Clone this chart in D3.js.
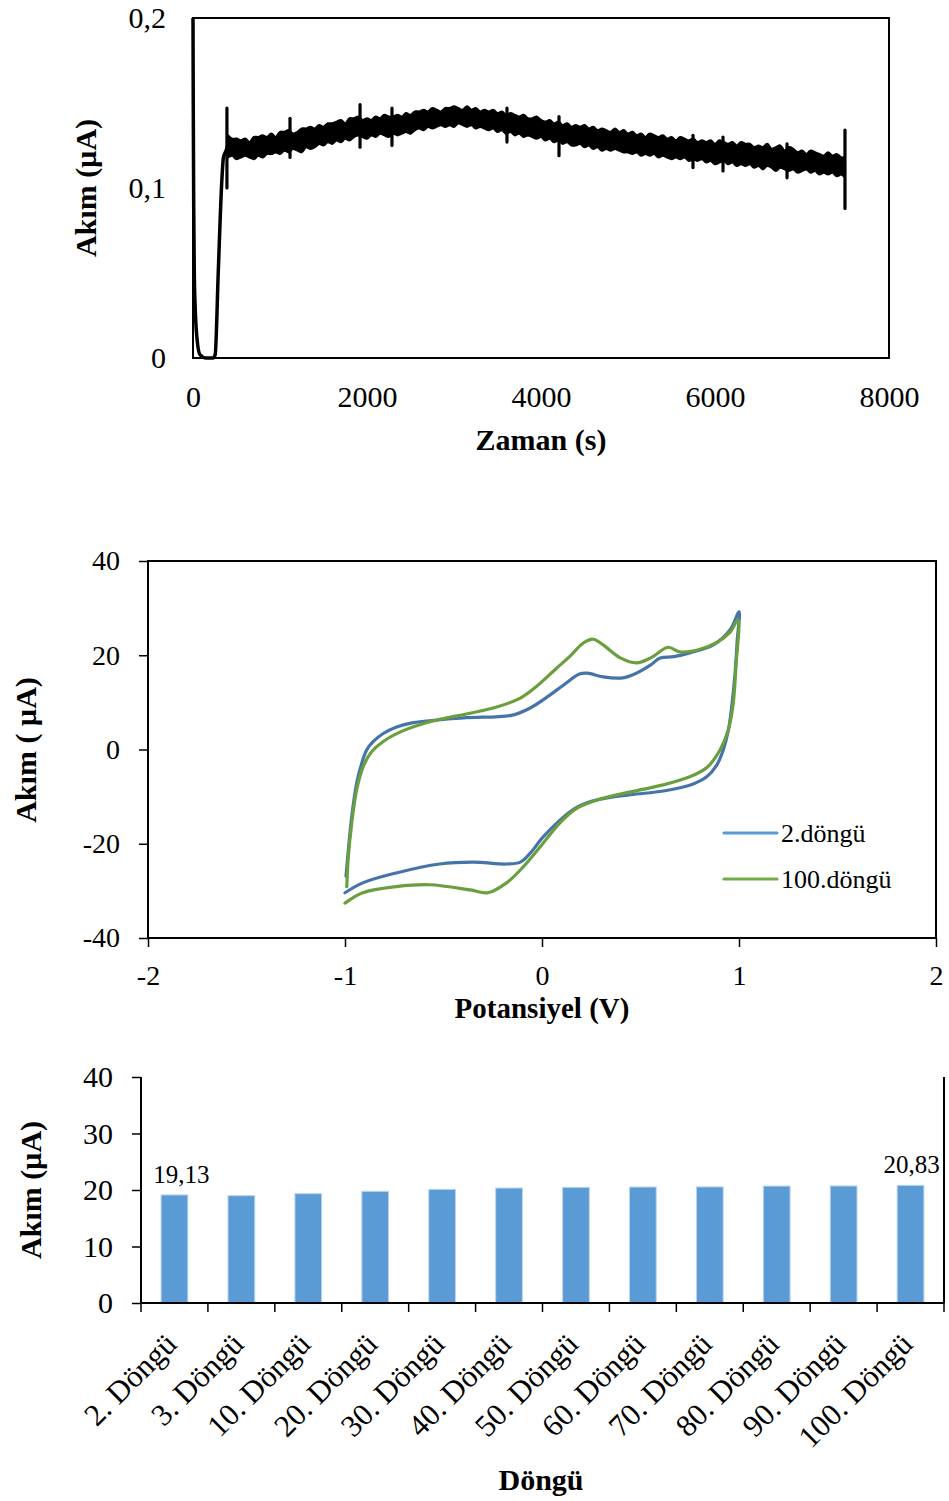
<!DOCTYPE html>
<html>
<head>
<meta charset="utf-8">
<script src="https://cdn.jsdelivr.net/npm/d3@7"></script>
<style>
  html, body { margin: 0; padding: 0; background: #fff; }
  svg text { font-family: "Liberation Serif", "Times New Roman", serif; fill: #000; }
</style>
</head>
<body>
<svg id="fig" width="949" height="1501"></svg>
<script>
// ---------- Panel 1: current vs time ----------
// start-up transient (s, µA)
const timeInitial    = [0, 3, 8, 15, 25, 45, 80, 150, 230, 255, 290, 330, 350, 380, 400];
const currentInitial = [0.2, 0.15, 0.09, 0.05, 0.03, 0.012, 0.002, 0, 0, 0.002, 0.05, 0.103, 0.118, 0.122, 0.125];

// noisy plateau: upper and lower edge of the recorded signal every 50 s
const timeBand = [
  400, 450, 500, 550, 600, 650, 700, 750, 800, 850,
  900, 950, 1000, 1050, 1100, 1150, 1200, 1250, 1300, 1350,
  1400, 1450, 1500, 1550, 1600, 1650, 1700, 1750, 1800, 1850,
  1900, 1950, 2000, 2050, 2100, 2150, 2200, 2250, 2300, 2350,
  2400, 2450, 2500, 2550, 2600, 2650, 2700, 2750, 2800, 2850,
  2900, 2950, 3000, 3050, 3100, 3150, 3200, 3250, 3300, 3350,
  3400, 3450, 3500, 3550, 3600, 3650, 3700, 3750, 3800, 3850,
  3900, 3950, 4000, 4050, 4100, 4150, 4200, 4250, 4300, 4350,
  4400, 4450, 4500, 4550, 4600, 4650, 4700, 4750, 4800, 4850,
  4900, 4950, 5000, 5050, 5100, 5150, 5200, 5250, 5300, 5350,
  5400, 5450, 5500, 5550, 5600, 5650, 5700, 5750, 5800, 5850,
  5900, 5950, 6000, 6050, 6100, 6150, 6200, 6250, 6300, 6350,
  6400, 6450, 6500, 6550, 6600, 6650, 6700, 6750, 6800, 6850,
  6900, 6950, 7000, 7050, 7100, 7150, 7200, 7250, 7300, 7350,
  7400, 7450, 7480];
const currentHigh = [
  0.131, 0.129, 0.129, 0.128, 0.129, 0.127, 0.130, 0.130, 0.131, 0.130,
  0.132, 0.130, 0.133, 0.133, 0.134, 0.132, 0.133, 0.135, 0.135, 0.136,
  0.135, 0.137, 0.136, 0.138, 0.138, 0.139, 0.140, 0.138, 0.141, 0.141,
  0.142, 0.140, 0.141, 0.140, 0.142, 0.141, 0.143, 0.142, 0.142, 0.143,
  0.142, 0.144, 0.143, 0.145, 0.145, 0.146, 0.145, 0.147, 0.146, 0.145,
  0.147, 0.147, 0.148, 0.147, 0.146, 0.148, 0.146, 0.147, 0.145, 0.146,
  0.145, 0.146, 0.144, 0.145, 0.143, 0.144, 0.143, 0.142, 0.143, 0.141,
  0.141, 0.142, 0.140, 0.139, 0.140, 0.138, 0.139, 0.137, 0.138, 0.136,
  0.137, 0.136, 0.137, 0.135, 0.136, 0.134, 0.135, 0.134, 0.133, 0.135,
  0.133, 0.134, 0.132, 0.133, 0.131, 0.132, 0.130, 0.132, 0.131, 0.130,
  0.131, 0.129, 0.130, 0.128, 0.130, 0.129, 0.128, 0.129, 0.127, 0.128,
  0.127, 0.128, 0.126, 0.128, 0.127, 0.126, 0.127, 0.125, 0.127, 0.126,
  0.126, 0.124, 0.125, 0.124, 0.126, 0.123, 0.124, 0.125, 0.122, 0.124,
  0.123, 0.121, 0.122, 0.120, 0.122, 0.121, 0.120, 0.119, 0.121, 0.119,
  0.120, 0.118, 0.118];
const currentLow = [
  0.118, 0.119, 0.117, 0.118, 0.119, 0.118, 0.117, 0.119, 0.118, 0.120,
  0.120, 0.121, 0.120, 0.122, 0.121, 0.123, 0.122, 0.121, 0.124, 0.123,
  0.124, 0.126, 0.125, 0.127, 0.126, 0.128, 0.127, 0.129, 0.128, 0.130,
  0.131, 0.130, 0.129, 0.131, 0.130, 0.132, 0.131, 0.130, 0.132, 0.131,
  0.132, 0.133, 0.132, 0.134, 0.135, 0.134, 0.136, 0.135, 0.136, 0.137,
  0.136, 0.137, 0.136, 0.138, 0.137, 0.136, 0.137, 0.135, 0.136, 0.135,
  0.134, 0.135, 0.133, 0.134, 0.132, 0.133, 0.131, 0.132, 0.130, 0.131,
  0.130, 0.129, 0.130, 0.128, 0.129, 0.127, 0.128, 0.126, 0.127, 0.125,
  0.125, 0.126, 0.124, 0.125, 0.123, 0.124, 0.122, 0.123, 0.122, 0.123,
  0.122, 0.121, 0.121, 0.120, 0.121, 0.119, 0.120, 0.119, 0.120, 0.118,
  0.119, 0.118, 0.117, 0.118, 0.117, 0.118, 0.116, 0.117, 0.116, 0.117,
  0.115, 0.116, 0.114, 0.115, 0.116, 0.114, 0.115, 0.113, 0.114, 0.113,
  0.114, 0.112, 0.113, 0.111, 0.113, 0.112, 0.110, 0.112, 0.111, 0.110,
  0.111, 0.109, 0.110, 0.111, 0.109, 0.110, 0.108, 0.109, 0.108, 0.109,
  0.107, 0.108, 0.107];

// isolated spikes in the signal
const spikeTime = [390, 1115, 1920, 2287, 3609, 4207, 5747, 6092, 6828, 7494];
const spikeLow  = [0.100, 0.118, 0.124, 0.125, 0.127, 0.119, 0.112, 0.110, 0.106, 0.088];
const spikeHigh = [0.147, 0.141, 0.149, 0.147, 0.147, 0.142, 0.131, 0.130, 0.126, 0.134];

const timeTicks = [0, 2000, 4000, 6000, 8000];
const currentTicks1 = [0, 0.1, 0.2];

// ---------- Panel 2: cyclic voltammograms ----------
const cycle2Potential = [-0.995, -0.983, -0.966, -0.941, -0.915, -0.890, -0.856, -0.806, -0.738, -0.653,
  -0.40, -0.15, -0.06, 0.025, 0.11, 0.19, 0.23, 0.31, 0.41, 0.48, 0.55, 0.60, 0.67, 0.75, 0.87, 0.955, 1.0,
  0.991, 0.980, 0.963, 0.946, 0.920, 0.887, 0.836, 0.768, 0.616, 0.45, 0.28, 0.18, 0.11, 0.005, -0.06, -0.11,
  -0.18, -0.35, -0.52, -0.74, -0.91, -1.0];
const cycle2Current = [-26.9, -21.3, -14.3, -7.2, -2.9, -0.1, 1.7, 3.4, 4.8, 5.7,
  6.7, 7.3, 8.8, 11.1, 13.7, 16.0, 16.2, 15.4, 15.2, 16.2, 17.9, 19.4, 19.7, 20.5, 22.2, 25.4, 29.2,
  23.2, 16.2, 9.1, 4.1, -0.1, -3.3, -5.8, -7.3, -8.8, -9.6, -10.7, -12.2, -14.3, -18.6, -22, -23.9,
  -24.3, -23.9, -24.3, -26.2, -28.3, -30.4];

const cycle100Potential = [-0.991, -0.983, -0.966, -0.941, -0.907, -0.865, -0.806, -0.704, -0.569,
  -0.365, -0.23, -0.11, -0.03, 0.075, 0.14, 0.21, 0.26, 0.31, 0.40, 0.48, 0.55, 0.64, 0.70, 0.79, 0.89,
  0.955, 0.995, 0.985, 0.97, 0.945, 0.905, 0.84, 0.75, 0.615, 0.45, 0.28, 0.18, 0.09, -0.01, -0.095, -0.18,
  -0.275, -0.365, -0.57, -0.74, -0.91, -1.0];
const cycle100Current = [-29.1, -22.7, -15.7, -8.6, -3.6, -0.5, 1.7, 4.0, 5.9,
  7.7, 9.0, 10.9, 13.3, 17.3, 19.7, 22.6, 23.4, 22.2, 19.4, 18.4, 19.4, 21.7, 20.7, 21.1, 22.8,
  24.9, 27.5, 18.0, 9.5, 4.1, 0, -3.7, -5.8, -7.5, -9.0, -10.7, -12.4, -15.6, -20.7, -24.9, -28.3,
  -30.4, -29.8, -28.7, -29.1, -30.4, -32.6];

const cvNames = ["2.döngü", "100.döngü"];
const potentialTicks = [-2, -1, 0, 1, 2];
const currentTicks2 = [-40, -20, 0, 20, 40];

// ---------- Panel 3: peak current per cycle ----------
const cycleLabels = ["2. Döngü", "3. Döngü", "10. Döngü", "20. Döngü", "30. Döngü", "40. Döngü",
  "50. Döngü", "60. Döngü", "70. Döngü", "80. Döngü", "90. Döngü", "100. Döngü"];
const peakCurrent = [19.13, 19.0, 19.35, 19.77, 20.12, 20.35, 20.47, 20.53, 20.55, 20.70, 20.72, 20.83];
const currentTicks3 = [0, 10, 20, 30, 40];

const SERIF = '"Liberation Serif","Times New Roman",serif';
const svg = d3.select("#fig");
const comma = v => String(v).replace(".", ",");

function styleAxis(g, size) {
  g.attr("font-family", SERIF).attr("font-size", size);
  g.select(".domain").remove();
  g.selectAll("text").attr("font-size", size).attr("fill", "#000").style("font-family", SERIF);
  g.selectAll("line").attr("stroke", "#000").attr("stroke-width", 1.5);
}

function yTitle(x, y, label, size) {
  svg.append("text")
    .attr("transform", `translate(${x},${y}) rotate(-90)`)
    .attr("text-anchor", "middle").attr("dominant-baseline", "central")
    .attr("font-size", size).attr("font-weight", "bold").text(label);
}
function xTitle(x, y, label, size) {
  svg.append("text").attr("x", x).attr("y", y).attr("text-anchor", "middle")
    .attr("font-size", size).attr("font-weight", "bold").text(label);
}

// ===== Panel 1 =====
{
  const x = d3.scaleLinear().domain([0, 8000]).range([193, 889]);
  const y = d3.scaleLinear().domain([0, 0.2]).range([358, 18]);

  const g = svg.append("g");
  g.append("rect").attr("x", x(0)).attr("y", y(0.2))
    .attr("width", x(8000) - x(0)).attr("height", y(0) - y(0.2))
    .attr("fill", "none").attr("stroke", "#000").attr("stroke-width", 2);

  const band = timeBand.map((t, i) => ({ t, hi: currentHigh[i], lo: currentLow[i] }));
  g.append("path").datum(band)
    .attr("d", d3.area().x(d => x(d.t)).y0(d => y(d.lo)).y1(d => y(d.hi)).curve(d3.curveCatmullRom))
    .attr("fill", "#000").attr("stroke", "#000").attr("stroke-width", 2.2)
    .attr("stroke-linejoin", "round");

  const initial = timeInitial.map((t, i) => ({ t, v: currentInitial[i] }));
  g.append("path").datum(initial)
    .attr("d", d3.line().x(d => x(d.t)).y(d => y(d.v)).curve(d3.curveMonotoneX))
    .attr("fill", "none").attr("stroke", "#000").attr("stroke-width", 3.5)
    .attr("stroke-linejoin", "round");

  g.selectAll("line.spike").data(spikeTime.map((t, i) => ({ t, lo: spikeLow[i], hi: spikeHigh[i] })))
    .join("line").attr("class", "spike")
    .attr("x1", d => x(d.t)).attr("x2", d => x(d.t))
    .attr("y1", d => y(d.lo)).attr("y2", d => y(d.hi))
    .attr("stroke", "#000").attr("stroke-width", 3.2).attr("stroke-linecap", "round");

  const ax = svg.append("g").attr("transform", `translate(0,${y(0)})`)
    .call(d3.axisBottom(x).tickValues(timeTicks).tickFormat(d => String(d)).tickSize(0).tickPadding(28));
  styleAxis(ax, 30);
  const ay = svg.append("g").attr("transform", `translate(${x(0)},0)`)
    .call(d3.axisLeft(y).tickValues(currentTicks1).tickFormat(comma).tickSize(0).tickPadding(27));
  styleAxis(ay, 30);

  xTitle(541, 450, "Zaman (s)", 30);
  yTitle(85, 188, "Akım (µA)", 30);
}

// ===== Panel 2 =====
{
  const x = d3.scaleLinear().domain([-2, 2]).range([148, 936]);
  const y = d3.scaleLinear().domain([-40, 40]).range([938, 561]);

  svg.append("rect").attr("x", x(-2)).attr("y", y(40))
    .attr("width", x(2) - x(-2)).attr("height", y(-40) - y(40))
    .attr("fill", "none").attr("stroke", "#000").attr("stroke-width", 2);

  const series = [
    { name: cvNames[0], v: cycle2Potential, i: cycle2Current, stroke: "#4674A9", key: "#5B9BD5" },
    { name: cvNames[1], v: cycle100Potential, i: cycle100Current, stroke: "#6A9F3E", key: "#70AD47" }
  ];
  const line = d3.line().x(d => x(d[0])).y(d => y(d[1])).curve(d3.curveCatmullRom.alpha(0.5));
  svg.append("g").selectAll("path").data(series).join("path")
    .attr("d", s => line(s.v.map((v, k) => [v, s.i[k]])))
    .attr("fill", "none").attr("stroke", s => s.stroke).attr("stroke-width", 3.2)
    .attr("stroke-linejoin", "round").attr("stroke-linecap", "round");

  const ax = svg.append("g").attr("transform", `translate(0,${y(-40)})`)
    .call(d3.axisBottom(x).tickValues(potentialTicks).tickFormat(d => String(d)).tickSize(9).tickPadding(18));
  styleAxis(ax, 28);
  const ay = svg.append("g").attr("transform", `translate(${x(-2)},0)`)
    .call(d3.axisLeft(y).tickValues(currentTicks2).tickFormat(d => String(d)).tickSize(9).tickPadding(19));
  styleAxis(ay, 28);

  const leg = svg.append("g").selectAll("g").data(series).join("g")
    .attr("transform", (s, k) => `translate(724,${833 + k * 46})`);
  leg.append("line").attr("x1", 0).attr("x2", 53)
    .attr("stroke", s => s.key).attr("stroke-width", 3.2).attr("stroke-linecap", "round");
  leg.append("text").attr("x", 57).attr("y", 9).attr("font-size", 26).text(s => s.name);

  xTitle(542, 1018, "Potansiyel (V)", 29);
  yTitle(25, 750, "Akım ( µA)", 30);
}

// ===== Panel 3 =====
{
  const x = d3.scaleBand().domain(cycleLabels).range([141, 944]).paddingInner(0.6).paddingOuter(0.3);
  const y = d3.scaleLinear().domain([0, 40]).range([1303, 1077]);
  const data = cycleLabels.map((c, k) => ({ c, v: peakCurrent[k], k }));

  svg.append("g").selectAll("rect").data(data).join("rect")
    .attr("x", d => x(d.c)).attr("width", x.bandwidth())
    .attr("y", d => y(d.v)).attr("height", d => y(0) - y(d.v))
    .attr("fill", "#5B9BD5").attr("stroke", "#BCD5EE").attr("stroke-width", 1);

  // value labels on first and last bar
  svg.append("g").selectAll("text").data([data[0], data[data.length - 1]]).join("text")
    .attr("x", d => x(d.c) + x.bandwidth() / 2 + (d.k === 0 ? 7 : 1))
    .attr("y", d => y(d.v) - 12)
    .attr("text-anchor", "middle").attr("font-size", 25)
    .text(d => d3.format(".2f")(d.v).replace(".", ","));

  // axis lines
  const frame = svg.append("g").attr("stroke", "#000").attr("stroke-width", 2);
  frame.append("line").attr("x1", 141).attr("x2", 141).attr("y1", y(40)).attr("y2", y(0));
  frame.append("line").attr("x1", 141).attr("x2", 944).attr("y1", y(0)).attr("y2", y(0));
  frame.append("line").attr("x1", 944).attr("x2", 944).attr("y1", y(40)).attr("y2", y(0));

  // category boundary ticks
  const step = x.step();
  const bounds = cycleLabels.map(c => x(c) - (step - x.bandwidth()) / 2).concat([944]);
  svg.append("g").selectAll("line").data(bounds).join("line")
    .attr("x1", d => d).attr("x2", d => d).attr("y1", y(0)).attr("y2", y(0) + 9)
    .attr("stroke", "#000").attr("stroke-width", 1.5);

  svg.append("g").selectAll("text").data(cycleLabels).join("text")
    .attr("transform", c => `translate(${x(c) + x.bandwidth() / 2 + 4},1346) rotate(-45)`)
    .attr("text-anchor", "end").attr("font-size", 31).text(c => c);

  const ay = svg.append("g").attr("transform", "translate(141,0)")
    .call(d3.axisLeft(y).tickValues(currentTicks3).tickFormat(d => String(d)).tickSize(9).tickPadding(19));
  styleAxis(ay, 30);

  xTitle(541, 1490, "Döngü", 30);
  yTitle(30, 1190, "Akım (µA)", 30);
}
</script>
</body>
</html>
